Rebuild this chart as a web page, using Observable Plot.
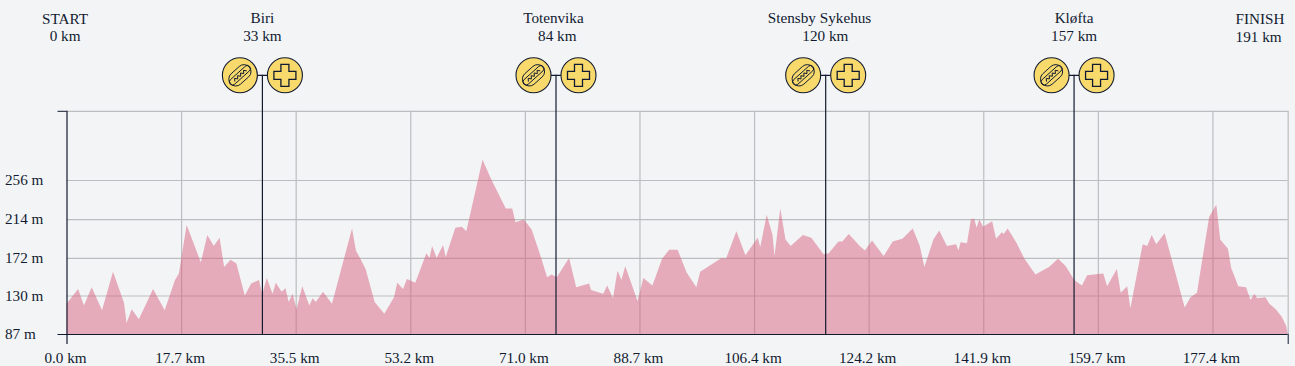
<!DOCTYPE html>
<html><head><meta charset="utf-8">
<script src="https://cdn.jsdelivr.net/npm/d3@7"></script>
<script src="https://cdn.jsdelivr.net/npm/@observablehq/plot@0.6"></script>
<style>html,body{margin:0;padding:0;background:#f3f4f6;overflow:hidden}svg{display:block}</style>
</head><body><div id="chart"></div>
<script>
const routeKm = [0,1.8,2.7,3.9,5.5,7.2,8.9,9.3,10.1,11.2,13.4,15.2,16.8,17.4,18.6,20.8,21.8,22.8,23.7,24.4,25.4,26.3,27.6,28.6,29.8,30.3,31,31.9,32.4,33.3,33.9,34.4,35,35.6,36.5,37.6,38.1,38.6,39.7,41.1,44.2,44.8,45.5,46.3,47.7,49.2,50.7,51.2,52.1,52.7,54,55.7,56.2,56.6,57.3,58.3,58.7,60.2,61.2,61.9,64.4,65.8,68,69,69.5,70.8,72,73.3,74.4,75.1,75.9,77.8,78.9,80.9,81.2,83.1,83.7,84.6,85.3,85.9,86.5,88.4,89.3,90.7,92.2,93.3,94.6,96,97.5,98.1,101.4,102.1,103.7,105.1,107,107.4,108.4,109.3,109.6,110.5,111.3,112.1,114,115.3,117.2,118,119.5,120.1,121.1,122.8,123.6,124.7,126.5,127.9,129.4,131,132.1,132.8,134.2,135.1,136.3,137.7,138.1,138.4,139.4,140,140.5,140.9,141.3,141.9,143.3,143.9,144.8,145.1,145.7,147.1,148.3,150,152.1,153.5,154.7,156,157.2,158,160.5,161.1,162.6,163.2,164.2,164.7,166.6,167.3,168,168.7,170,173.1,174,175,176.9,178,178.6,179.8,180.3,181.4,182.6,183.3,183.9,184.3,185.6,186.2,187.2,188.1,188.8,189.05];
const elevation = [120,136,118,138,113,155,121,99,114,103,136,113,146,153,206,165,195,183,192,160,168,164,129,142,146,130,148,131,143,133,137,122,131,114,139,118,126,122,133,120,202,178,169,158,122,109,127,143,136,147,143,175,170,183,170,184,171,203,204,199,277,255,224,224,209,212,201,174,149,152,149,170,138,142,135,131,140,126,156,146,161,123,148,140,169,179,179,154,138,155,170,169,199,173,192,182,217,195,172,224,190,183,195,192,174,175,188,188,196,183,178,189,172,188,191,202,183,160,190,200,183,185,178,187,186,212,213,203,212,204,210,191,198,196,202,186,169,152,160,169,161,146,140,151,153,139,158,132,139,115,185,183,195,185,197,116,127,132,215,228,190,180,159,139,138,124,131,126,127,120,114,106,96,87];

const xTicks = [0,17.74,35.48,53.22,70.96,88.7,106.44,124.18,141.92,159.66,177.4];
const yTicks = [87,129,170,212.4,255];
const yLabels = ["87 m","130 m","172 m","214 m","256 m"];
const xMax = 189.05, yMax = 330.5;

const stationNames = ["Biri","Totenvika","Stensby Sykehus","Kløfta"];
const stationDist = ["33 km","84 km","120 km","157 km"];
const stationKm = [30.25,75.7,117.45,155.9];
const nameKm = [30.25,75.3,116.5,155.9];
const distKm = [30.25,75.9,117.4,155.9];
const endNames = ["START","FINISH"];
const endDist = ["0 km","191 km"];
const endKm = [-0.3,180.9];

const INK = "#111a30", GRID = "#bcbdc0", FONT = "Liberation Serif, Times New Roman, serif", YEL = "#f8d96c";
const profile = routeKm.map((km,i)=>({km,m:elevation[i]}));
const stations = stationKm.map((km,i)=>({km,name:stationNames[i],dist:stationDist[i],nameKm:nameKm[i],distKm:distKm[i]}));
const ends = endKm.map((km,i)=>({km,name:endNames[i],dist:endDist[i]}));
const yAxisRows = yTicks.map((v,i)=>({v,label:yLabels[i]}));

const connector = {draw(c){c.moveTo(-22,0);c.lineTo(22,0);}};
const cross = {draw(c){
  const a=4,b=11;
  c.moveTo(-a,-b);c.lineTo(a,-b);c.lineTo(a,-a);c.lineTo(b,-a);c.lineTo(b,a);c.lineTo(a,a);c.lineTo(a,b);c.lineTo(-a,b);c.lineTo(-a,a);c.lineTo(-b,a);c.lineTo(-b,-a);c.lineTo(-a,-a);c.closePath();
}};
const T=-42*Math.PI/180;
function rot(x,y){return [x*Math.cos(T)-y*Math.sin(T),x*Math.sin(T)+y*Math.cos(T)];}
function capsule(c,L,R){
  let p=rot(-L,-R);c.moveTo(p[0],p[1]);
  p=rot(L,-R);c.lineTo(p[0],p[1]);
  let q=rot(L,0);c.arc(q[0],q[1],R,T-Math.PI/2,T+Math.PI/2);
  p=rot(-L,R);c.lineTo(p[0],p[1]);
  q=rot(-L,0);c.arc(q[0],q[1],R,T+Math.PI/2,T+3*Math.PI/2);
  c.closePath();
}
const hotdog = {draw(c){
  capsule(c,5.5,7);
  capsule(c,10,3.1);
  for(let i=0;i<9;i++){
    const p=rot(-8+i*2,i%2?-1.3:1.3);
    if(i===0)c.moveTo(p[0],p[1]);else c.lineTo(p[0],p[1]);
  }
}};

const tf = {fontFamily:FONT,fontSize:15.2,fill:INK};
const chart = Plot.plot({
  width:1295,height:366,marginLeft:66.5,marginRight:7.3,marginTop:110.8,marginBottom:32,
  style:{background:"#f3f4f6",overflow:"visible"},
  x:{domain:[0,xMax],axis:null},
  y:{domain:[87,yMax],axis:null},
  marks:[
    Plot.ruleX(xTicks.slice(1).concat([xMax]),{stroke:GRID,strokeWidth:1.2}),
    Plot.ruleY(yTicks.slice(1).concat([yMax]),{stroke:GRID,strokeWidth:1.2}),
    Plot.areaY(profile,{x:"km",y1:87,y2:"m",fill:"#d7627e",fillOpacity:.5}),
    Plot.ruleY([87],{stroke:INK,strokeWidth:1,insetLeft:-9}),
    Plot.ruleX([0],{stroke:INK,strokeWidth:1.2,insetBottom:-10}),
    Plot.ruleX([xMax],{stroke:INK,strokeWidth:1,insetTop:223,insetBottom:-10}),
    Plot.ruleY([yMax],{stroke:INK,strokeWidth:1,insetLeft:-9,insetRight:1221}),
    Plot.ruleX(stations,{x:"km",stroke:INK,strokeWidth:1.2,insetTop:-36}),
    Plot.dot(stations,{x:"km",frameAnchor:"top",dy:-36,symbol:connector,r:5,stroke:INK,strokeWidth:1.2,fill:"none"}),
    ...[-22.5,22.5].map(dx=>Plot.dot(stations,{x:"km",frameAnchor:"top",dy:-36,dx,r:17.5,fill:YEL,stroke:INK,strokeWidth:1.1})),
    Plot.dot(stations,{x:"km",frameAnchor:"top",dy:-36,dx:-22.5,symbol:hotdog,r:5,fill:"none",stroke:INK,strokeWidth:1}),
    Plot.dot(stations,{x:"km",frameAnchor:"top",dy:-36,dx:22.5,symbol:cross,r:5,fill:"none",stroke:INK,strokeWidth:1.3}),
    Plot.text(xTicks,{x:d=>d,text:d=>d.toFixed(1)+" km",frameAnchor:"bottom",lineAnchor:"middle",dy:23.7,dx:-1.5,...tf}),
    Plot.text(yAxisRows,{y:"v",text:"label",frameAnchor:"left",textAnchor:"start",dx:-62,dy:0,...tf}),
    Plot.text(stations,{x:"nameKm",text:"name",frameAnchor:"top",lineAnchor:"middle",dy:-93,...tf}),
    Plot.text(stations,{x:"distKm",text:"dist",frameAnchor:"top",lineAnchor:"middle",dy:-75,...tf}),
    Plot.text(ends,{x:"km",text:"name",frameAnchor:"top",lineAnchor:"middle",dy:-92.6,textAnchor:"middle",...tf,filter:d=>d.name==="START"}),
    Plot.text(ends,{x:"km",text:"dist",frameAnchor:"top",lineAnchor:"middle",dy:-75,...tf,filter:d=>d.name==="START"}),
    Plot.text(ends,{x:"km",text:"name",frameAnchor:"top",lineAnchor:"middle",dy:-92,textAnchor:"start",...tf,filter:d=>d.name==="FINISH"}),
    Plot.text(ends,{x:"km",text:"dist",frameAnchor:"top",lineAnchor:"middle",dy:-74,textAnchor:"start",...tf,filter:d=>d.name==="FINISH"})
  ]
});
document.getElementById("chart").append(chart);
</script></body></html>
